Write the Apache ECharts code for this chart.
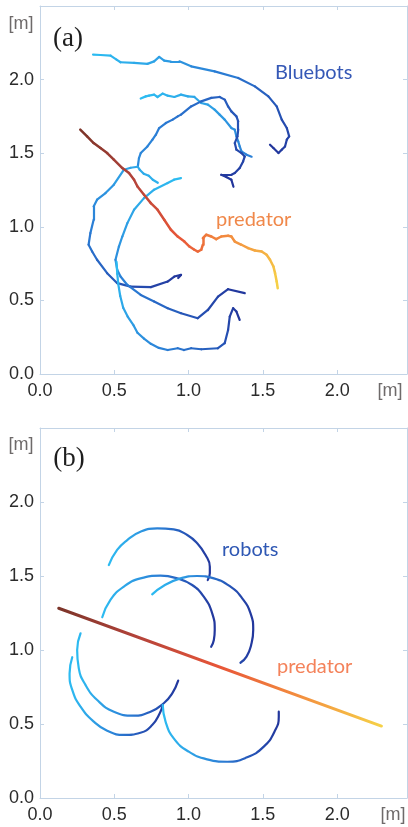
<!DOCTYPE html>
<html>
<head>
<meta charset="utf-8">
<script src="https://cdn.jsdelivr.net/npm/echarts@6/dist/echarts.min.js"></script>
<style>
  html, body { margin: 0; padding: 0; background: #fff; }
  #chart { width: 408px; height: 827px; }
</style>
</head>
<body>
<div id="chart"></div>
<script>
// (a) tracked Bluebots, [x, y] in metres, start -> end
const bluebotTop = [[0.357,2.170],[0.407,2.167],[0.475,2.163],[0.515,2.136],[0.542,2.118],[0.633,2.114],[0.723,2.107],[0.768,2.124],[0.802,2.154],[0.836,2.129],[0.881,2.122],[0.938,2.124],[1.017,2.090],[1.175,2.056],[1.334,2.011],[1.446,1.954],[1.537,1.886],[1.593,1.818],[1.627,1.728],[1.661,1.671],[1.677,1.614],[1.661,1.592],[1.649,1.546],[1.627,1.524],[1.605,1.501],[1.571,1.535],[1.548,1.558]];
const bluebotUpper = [[0.678,1.871],[0.712,1.886],[0.734,1.891],[0.768,1.898],[0.791,1.882],[0.825,1.905],[0.859,1.891],[0.904,1.882],[0.949,1.898],[0.995,1.886],[1.039,1.882],[1.085,1.841],[1.130,1.830],[1.175,1.796],[1.209,1.762],[1.243,1.728],[1.288,1.671],[1.311,1.660],[1.322,1.614],[1.334,1.580],[1.344,1.546],[1.356,1.512],[1.390,1.490],[1.424,1.476]];
const bluebotLoop = [[0.658,1.408],[0.666,1.467],[0.678,1.501],[0.723,1.546],[0.757,1.592],[0.780,1.626],[0.802,1.671],[0.847,1.705],[0.893,1.728],[0.927,1.750],[0.949,1.762],[1.017,1.818],[1.085,1.852],[1.153,1.876],[1.209,1.882],[1.243,1.864],[1.266,1.818],[1.288,1.784],[1.322,1.750],[1.334,1.716],[1.334,1.660],[1.329,1.614],[1.311,1.569],[1.322,1.524],[1.356,1.501],[1.378,1.478],[1.367,1.444],[1.344,1.399],[1.311,1.365],[1.288,1.354],[1.220,1.354],[1.254,1.338],[1.288,1.320],[1.302,1.272]];
const bluebotLeft = [[0.793,1.299],[0.759,1.320],[0.732,1.347],[0.698,1.361],[0.671,1.388],[0.658,1.408],[0.610,1.401],[0.565,1.388],[0.497,1.286],[0.441,1.229],[0.384,1.184],[0.361,1.138],[0.361,1.048],[0.339,0.957],[0.327,0.878],[0.351,0.832],[0.384,0.776],[0.452,0.685],[0.520,0.617],[0.610,0.594],[0.746,0.590],[0.859,0.628],[0.904,0.662],[0.949,0.673],[0.930,0.652]];
const bluebotMiddle = [[0.949,1.331],[0.902,1.320],[0.859,1.297],[0.768,1.252],[0.700,1.195],[0.633,1.116],[0.588,1.025],[0.554,0.934],[0.531,0.866],[0.508,0.776],[0.520,0.707],[0.542,0.662],[0.588,0.605],[0.678,0.537],[0.768,0.492],[0.859,0.447],[0.949,0.413],[1.062,0.379],[1.130,0.435],[1.198,0.526],[1.266,0.576],[1.378,0.549]];
const bluebotBottom = [[0.515,0.762],[0.520,0.680],[0.527,0.610],[0.540,0.530],[0.560,0.450],[0.590,0.390],[0.630,0.330],[0.656,0.280],[0.700,0.240],[0.746,0.205],[0.800,0.177],[0.859,0.163],[0.927,0.175],[0.969,0.163],[1.017,0.175],[1.085,0.168],[1.198,0.175],[1.243,0.209],[1.266,0.299],[1.277,0.390],[1.300,0.447],[1.322,0.424],[1.344,0.367]];
const predatorA = [[0.271,1.660],[0.317,1.614],[0.361,1.569],[0.407,1.535],[0.452,1.501],[0.497,1.456],[0.554,1.399],[0.599,1.365],[0.633,1.320],[0.656,1.274],[0.700,1.218],[0.746,1.161],[0.791,1.116],[0.836,1.048],[0.881,0.980],[0.927,0.934],[0.972,0.900],[1.006,0.866],[1.039,0.844],[1.062,0.832],[1.085,0.844],[1.096,0.878],[1.096,0.923],[1.119,0.946],[1.153,0.934],[1.186,0.916],[1.220,0.934],[1.266,0.939],[1.288,0.934],[1.311,0.900],[1.356,0.878],[1.401,0.855],[1.446,0.839],[1.492,0.832],[1.525,0.810],[1.548,0.776],[1.571,0.730],[1.582,0.685],[1.593,0.628],[1.600,0.583]];

// (b) simulated robot arcs and predator path, [x, y] in metres
const robotArc1 = [[0.463,1.574],[0.519,1.676],[0.587,1.743],[0.676,1.799],[0.789,1.822],[0.900,1.815],[0.991,1.777],[1.058,1.721],[1.114,1.642],[1.143,1.563],[1.143,1.518],[1.129,1.473]];
const robotArc2 = [[0.419,1.221],[0.474,1.338],[0.564,1.428],[0.676,1.484],[0.811,1.502],[0.923,1.484],[1.024,1.439],[1.102,1.360],[1.159,1.248],[1.176,1.135],[1.170,1.068],[1.152,1.022]];
const robotArc3 = [[0.755,1.376],[0.833,1.434],[0.945,1.484],[1.058,1.500],[1.170,1.484],[1.282,1.428],[1.361,1.349],[1.417,1.248],[1.435,1.135],[1.421,1.034],[1.390,0.955],[1.349,0.914]];
const robotArc4 = [[0.273,1.113],[0.250,1.000],[0.261,0.876],[0.306,0.764],[0.385,0.662],[0.497,0.583],[0.631,0.556],[0.744,0.583],[0.833,0.640],[0.890,0.707],[0.930,0.793]];
const robotArc5 = [[0.217,0.951],[0.199,0.842],[0.217,0.730],[0.273,0.617],[0.362,0.516],[0.452,0.455],[0.564,0.426],[0.676,0.441],[0.755,0.493],[0.806,0.572],[0.826,0.628]];
const robotArc6 = [[0.826,0.628],[0.845,0.516],[0.900,0.403],[1.001,0.313],[1.125,0.261],[1.260,0.245],[1.394,0.275],[1.506,0.347],[1.578,0.448],[1.607,0.549],[1.607,0.583]];
const predatorB = [[0.126,1.282],[2.298,0.486]];

const tickLabels = [0, 0.5, 1.0, 1.5, 2.0];

const blueRamp = ['#2cbdf2', '#2ea2e6', '#2b7fd6', '#2656b8', '#22349a'];
const redRamp = ['#7a3429', '#b4433a', '#e85638', '#f3903f', '#f6d347'];
const frameColor = '#c3d4e6';

const chart = echarts.init(document.getElementById('chart'));

function hexToRgb(h) {
  return [1, 3, 5].map(i => parseInt(h.substr(i, 2), 16));
}
function rampColor(ramp, t) {
  t = Math.max(0, Math.min(1, t));
  const p = t * (ramp.length - 1);
  const i = Math.min(Math.floor(p), ramp.length - 2);
  const f = p - i;
  const a = hexToRgb(ramp[i]), b = hexToRgb(ramp[i + 1]);
  return 'rgb(' + a.map((v, k) => Math.round(v + (b[k] - v) * f)).join(',') + ')';
}
function rampGradient(ramp) {
  return new echarts.graphic.LinearGradient(0, 0, 1, 0,
    ramp.map((c, i) => ({ offset: i / (ramp.length - 1), color: c })));
}

// colour each piece by how far along the track it is
function segments(track, ramp, t0, t1) {
  const cum = [0];
  for (let i = 1; i < track.length; i++) {
    cum.push(cum[i - 1] + Math.hypot(track[i][0] - track[i - 1][0], track[i][1] - track[i - 1][1]));
  }
  const total = cum[cum.length - 1];
  const out = [];
  for (let i = 1; i < track.length; i++) {
    const t = t0 + (t1 - t0) * (cum[i - 1] + cum[i]) / 2 / total;
    out.push({ coords: [track[i - 1], track[i]], lineStyle: { color: rampColor(ramp, t) } });
  }
  return out;
}

function trackSeries(track, ramp, t0, t1, width) {
  return {
    type: 'lines',
    coordinateSystem: 'cartesian2d',
    xAxisIndex: 0,
    yAxisIndex: 0,
    silent: true,
    lineStyle: { width: width, opacity: 1, curveness: 0, cap: 'round', join: 'round' },
    data: segments(track, ramp, t0, t1)
  };
}

function arcSeries(arc, ramp, width) {
  return {
    type: 'line',
    xAxisIndex: 2,
    yAxisIndex: 2,
    data: arc,
    smooth: 0.5,
    showSymbol: false,
    silent: true,
    lineStyle: { width: width, color: rampGradient(ramp), cap: 'round' }
  };
}

const labelFmt = v => tickLabels.some(t => Math.abs(t - v) < 1e-6) ? v.toFixed(1) : '';

function xAxisFor(grid, pos) {
  return {
    type: 'value', gridIndex: grid, position: pos,
    min: 0, max: 2.47, interval: 0.5,
    axisLine: { show: true, onZero: false, lineStyle: { color: frameColor, width: 1 } },
    axisTick: { show: true, inside: true, length: 4, lineStyle: { color: frameColor } },
    splitLine: { show: false },
    axisLabel: {
      show: pos === 'bottom', margin: 8, fontSize: 18, color: '#2b2b2b',
      fontFamily: 'Liberation Sans', formatter: labelFmt
    }
  };
}
function yAxisFor(grid, pos) {
  return {
    type: 'value', gridIndex: grid, position: pos,
    min: 0, max: 2.5, interval: 0.5,
    axisLine: { show: true, onZero: false, lineStyle: { color: frameColor, width: 1 } },
    axisTick: { show: true, inside: true, length: 4, lineStyle: { color: frameColor } },
    splitLine: { show: false },
    axisLabel: {
      show: pos === 'left', margin: 6, fontSize: 18, color: '#2b2b2b',
      fontFamily: 'Liberation Sans', formatter: labelFmt
    }
  };
}

function label(text, x, y, font, fill, align) {
  return {
    type: 'text', x: x, y: y, silent: true,
    style: {
      text: text, font: font, fill: fill,
      align: align, verticalAlign: 'middle',
      textAlign: align, textVerticalAlign: 'middle'
    }
  };
}

const option = {
  backgroundColor: '#fff',
  animation: false,
  grid: [
    { left: 40, right: 1, top: 6, bottom: 453, containLabel: false, outerBoundsMode: 'none' },
    { left: 40, right: 1, top: 428, bottom: 29, containLabel: false, outerBoundsMode: 'none' }
  ],
  xAxis: [xAxisFor(0, 'bottom'), xAxisFor(0, 'top'), xAxisFor(1, 'bottom'), xAxisFor(1, 'top')],
  yAxis: [yAxisFor(0, 'left'), yAxisFor(0, 'right'), yAxisFor(1, 'left'), yAxisFor(1, 'right')],
  series: [
    trackSeries(bluebotTop, blueRamp, 0, 1, 2.2),
    trackSeries(bluebotUpper, blueRamp, 0, 0.5, 2.2),
    trackSeries(bluebotLoop, blueRamp, 0.4, 1, 2.2),
    trackSeries(bluebotLeft, blueRamp, 0.1, 1, 2.2),
    trackSeries(bluebotMiddle, blueRamp, 0, 1, 2.2),
    trackSeries(bluebotBottom, blueRamp, 0, 1, 2.2),
    trackSeries(predatorA, redRamp, 0, 1, 2.5),
    arcSeries(robotArc1, blueRamp, 2.2),
    arcSeries(robotArc2, blueRamp, 2.2),
    arcSeries(robotArc3, blueRamp, 2.2),
    arcSeries(robotArc4, blueRamp, 2.2),
    arcSeries(robotArc5, blueRamp, 2.2),
    arcSeries(robotArc6, blueRamp, 2.2),
    arcSeries(predatorB, redRamp, 3)
  ],
  graphic: [
    label('[m]', 21, 24, '18px "Liberation Sans"', '#6e6a6a', 'center'),
    label('[m]', 390, 391, '18px "Liberation Sans"', '#6e6a6a', 'center'),
    label('(a)', 68, 39, '27px "Liberation Serif"', '#1e1e1e', 'center'),
    label('Bluebots', 275, 73, '20px Lato', '#3558b6', 'left'),
    label('predator', 216, 220, '20px Lato', '#f0884a', 'left'),
    label('[m]', 21, 445, '18px "Liberation Sans"', '#6e6a6a', 'center'),
    label('[m]', 393, 815, '18px "Liberation Sans"', '#6e6a6a', 'center'),
    label('(b)', 69, 459, '27px "Liberation Serif"', '#1e1e1e', 'center'),
    label('robots', 222, 550, '20px Lato', '#2f58b4', 'left'),
    label('predator', 277, 667, '20px Lato', '#f4825a', 'left')
  ]
};

option && chart.setOption(option);
</script>
</body>
</html>
